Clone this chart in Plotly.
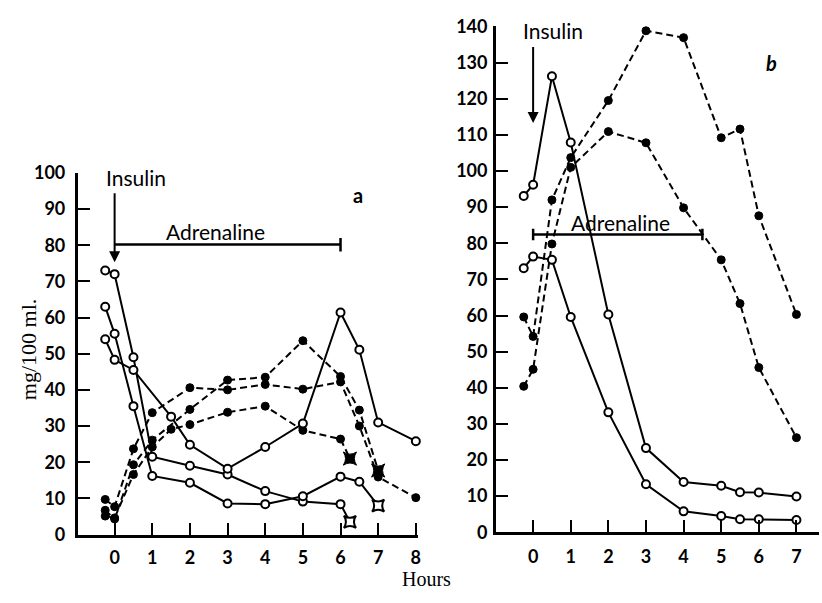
import plotly.graph_objects as go

# ---------------- Panel a (hours vs mg/100 ml.) ----------------
# open circles, solid lines
a_open_x = [
    [-0.25, 0, 0.5, 1, 2, 3, 4, 5, 6, 6.25],
    [-0.25, 0, 0.5, 1, 2, 3, 4, 5, 6, 6.5, 7],
    [-0.25, 0, 0.5, 1.5, 2, 3, 4, 5, 6, 6.5, 7, 8],
]
a_open_y = [
    [73, 72, 49, 21.5, 19, 16.6, 12, 9.1, 8.4, 3.5],
    [63, 55.5, 35.5, 16.2, 14.3, 8.6, 8.4, 10.6, 16, 14.6, 8],
    [54, 48.3, 45.5, 32.6, 24.8, 18.2, 24.2, 30.7, 61.4, 51.1, 31, 25.8],
]
a_open_box_end = [True, True, False]

# filled circles, dashed lines
a_fill_x = [
    [-0.25, 0, 0.5, 1, 2, 3, 4, 5, 6, 6.5, 7, 8],
    [-0.25, 0, 0.5, 1, 2, 3, 4, 5, 6, 6.5, 7],
    [-0.25, 0, 0.5, 1, 1.5, 2, 3, 4, 5, 6, 6.25],
]
a_fill_y = [
    [9.7, 7.7, 23.7, 33.7, 40.6, 40, 41.5, 40.2, 42.2, 30, 15.9, 10.2],
    [6.7, 4.3, 19.3, 26.1, 34.6, 42.7, 43.5, 53.6, 43.7, 34.4, 17.7],
    [5.1, 4.6, 16.6, 24.2, 29.1, 30.4, 33.8, 35.5, 28.8, 26.4, 21.0],
]
a_fill_box_end = [False, True, True]

a_xticks = [0, 1, 2, 3, 4, 5, 6, 7, 8]
a_yticks = [0, 10, 20, 30, 40, 50, 60, 70, 80, 90, 100]

# ---------------- Panel b ----------------
b_hours = [-0.25, 0, 0.5, 1, 2, 3, 4, 5, 5.5, 6, 7]
b_open_y = [
    [93.1, 96.2, 126.2, 107.9, 60.3, 23.3, 13.9, 12.9, 11.1, 11.0, 9.9],
    [73.1, 76.3, 75.4, 59.6, 33.2, 13.3, 5.8, 4.5, 3.6, 3.6, 3.4],
]
b_fill_y = [
    [59.6, 54.2, 92.0, 103.7, 119.5, 138.8, 136.9, 109.2, 111.6, 87.6, 60.3],
    [40.4, 45.1, 79.8, 101.0, 110.9, 107.8, 89.8, 75.4, 63.3, 45.6, 26.2],
]

b_xticks = [0, 1, 2, 3, 4, 5, 6, 7]
b_yticks = list(range(0, 150, 10))

INK = "black"


def symbols(n, box_end):
    s = ["circle"] * n
    if box_end:
        s[-1] = "star-square"
    return s


def sizes(n, box_end, base, box):
    s = [base] * n
    if box_end:
        s[-1] = box
    return s


fig = go.Figure()


def add_series(xs, ys, filled, box_end, xa, ya):
    n = len(xs)
    if filled:
        marker = dict(color=INK, size=sizes(n, box_end, 8, 12), opacity=1,
                      symbol=symbols(n, box_end), line=dict(color=INK, width=1))
        line = dict(color=INK, width=2, dash="7px,4px")
    else:
        marker = dict(color="white", size=sizes(n, box_end, 8, 11), opacity=1,
                      symbol=symbols(n, box_end), line=dict(color=INK, width=2))
        line = dict(color=INK, width=2)
    fig.add_trace(go.Scatter(x=xs, y=ys, mode="lines+markers", line=line,
                             marker=marker, xaxis=xa, yaxis=ya,
                             cliponaxis=False, showlegend=False,
                             hoverinfo="skip"))


for xs, ys, be in zip(a_fill_x, a_fill_y, a_fill_box_end):
    add_series(xs, ys, True, be, "x", "y")
for xs, ys, be in zip(a_open_x, a_open_y, a_open_box_end):
    add_series(xs, ys, False, be, "x", "y")
for ys in b_fill_y:
    add_series(b_hours, ys, True, False, "x2", "y2")
for ys in b_open_y:
    add_series(b_hours, ys, False, False, "x2", "y2")

W, H = 822, 603
tickfont = dict(family="Lato", size=18, color=INK, weight="bold")
axis_common = dict(showline=True, linecolor=INK, linewidth=2.6, ticks="inside",
                   ticklen=12, tickwidth=2.4, tickcolor=INK, showgrid=False,
                   zeroline=False, tickfont=tickfont, fixedrange=True)

fig.update_layout(
    width=W, height=H,
    margin=dict(l=0, r=0, t=0, b=0),
    paper_bgcolor="white", plot_bgcolor="white",
    xaxis=dict(domain=[78 / W, 420 / W], range=[-0.98, 8.07], anchor="y",
               tickmode="array", tickvals=a_xticks, ticklabelstandoff=5,
               **axis_common),
    yaxis=dict(domain=[1 - 542.3 / H, 1 - 167 / H], range=[0, 100], anchor="x",
               tickmode="array", tickvals=a_yticks, ticklabelstandoff=6,
               **axis_common),
    xaxis2=dict(domain=[497.7 / W, 1.0], range=[-0.99, 7.6], anchor="y2",
                tickmode="array", tickvals=b_xticks, ticklabelstandoff=6,
                **axis_common),
    yaxis2=dict(domain=[1 - 540 / H, 1 - 15 / H], range=[0, 140], anchor="x2",
                tickmode="array", tickvals=b_yticks, ticklabelstandoff=2,
                **axis_common),
)

label_font = dict(family="Lato", size=21, color=INK)
C = dict(xanchor="center", yanchor="middle", showarrow=False)
ann = []
# insulin arrows
ann.append(dict(x=0, y=75.3, ax=0, ay=94.8, xref="x", yref="y", axref="x",
                ayref="y", text="", showarrow=True, arrowhead=2, arrowsize=1.1,
                arrowwidth=2, arrowcolor=INK))
ann.append(dict(x=0, y=113.3, ax=0, ay=134.7, xref="x2", yref="y2", axref="x2",
                ayref="y2", text="", showarrow=True, arrowhead=2, arrowsize=1.1,
                arrowwidth=2, arrowcolor=INK))
ann.append(dict(x=0.57, y=98.6, xref="x", yref="y", text="Insulin",
                font=label_font, **C))
ann.append(dict(x=0.53, y=138.9, xref="x2", yref="y2", text="Insulin",
                font=label_font, **C))
ann.append(dict(x=2.69, y=83.8, xref="x", yref="y", text="Adrenaline",
                font=label_font, **C))
ann.append(dict(x=2.31, y=85.8, xref="x2", yref="y2", text="Adrenaline",
                font=label_font, **C))
ann.append(dict(x=6.46, y=94, xref="x", yref="y", text="<b>a</b>",
                font=dict(family="Lato", size=20, color=INK), **C))
ann.append(dict(x=6.35, y=129.8, xref="x2", yref="y2", text="<b><i>b</i></b>",
                font=dict(family="Lato", size=20, color=INK), **C))
# axis titles
ann.append(dict(x=428 / W, y=1 - 588 / H, xref="paper", yref="paper",
                text="Hours",
                font=dict(family="Liberation Serif", size=20, color=INK), **C))
ann.append(dict(x=28 / W, y=1 - 350 / H, xref="paper", yref="paper",
                text="mg/100 ml.", textangle=-90,
                font=dict(family="Liberation Serif", size=22, color=INK), **C))
fig.update_layout(annotations=ann)

# adrenaline infusion bars
bar = dict(color=INK, width=2.5)
shapes = [
    dict(type="line", xref="x", yref="y", x0=0, x1=6, y0=80.2, y1=80.2, line=bar),
    dict(type="line", xref="x", yref="y", x0=6, x1=6, y0=78.3, y1=82.0, line=bar),
    dict(type="line", xref="x2", yref="y2", x0=0, x1=4.5, y0=82.4, y1=82.4, line=bar),
    dict(type="line", xref="x2", yref="y2", x0=0, x1=0, y0=80.8, y1=84.0, line=bar),
    dict(type="line", xref="x2", yref="y2", x0=4.5, x1=4.5, y0=80.8, y1=84.0, line=bar),
]
fig.update_layout(shapes=shapes)

fig.write_html("out.html")
